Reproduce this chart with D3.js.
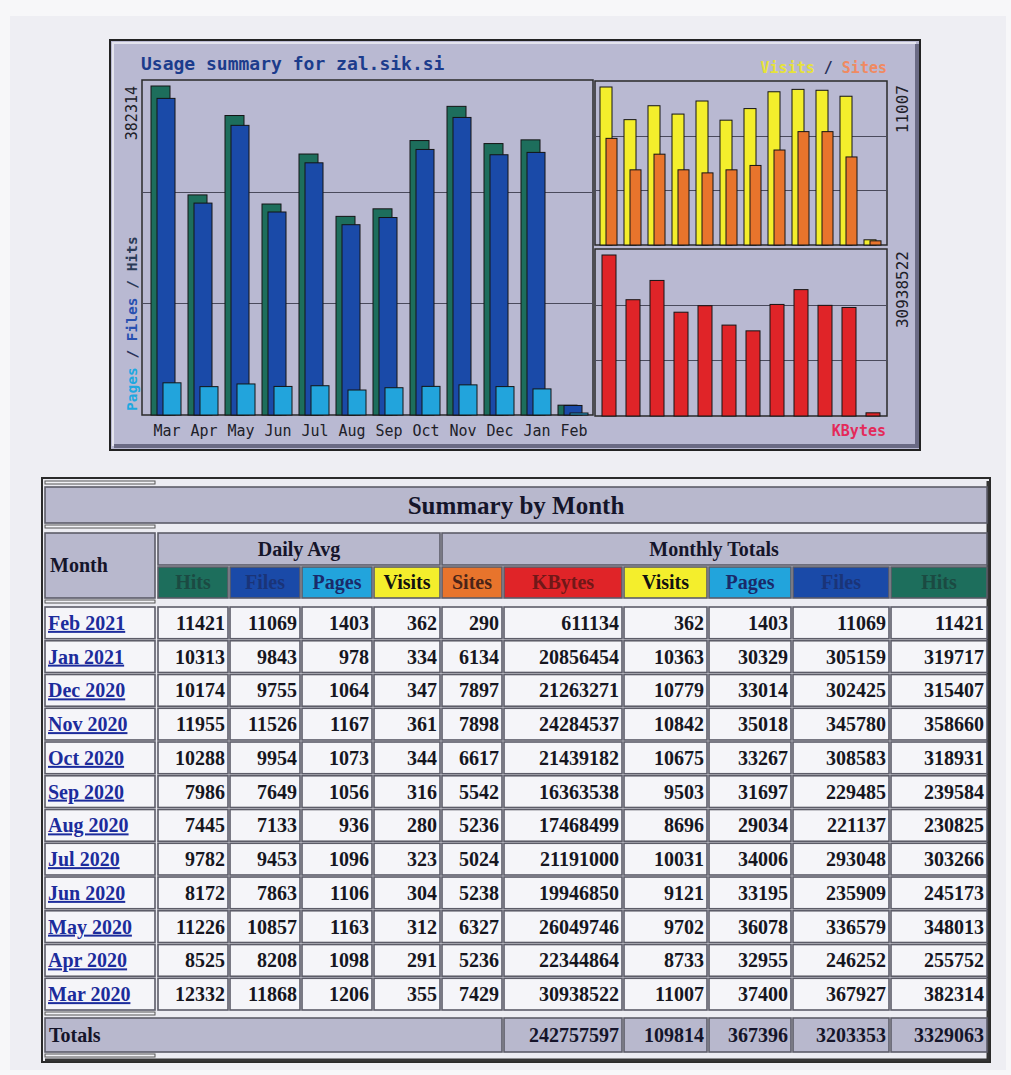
<!DOCTYPE html>
<html>
<head>
<meta charset="utf-8">
<script src="https://cdn.jsdelivr.net/npm/d3@7"></script>
<style>
body { margin: 0; background: #f4f4f7; }
</style>
</head>
<body>
<div id="page"></div>
<script>
// chart order: Mar 2020 .. Feb 2021
const months = ["Mar", "Apr", "May", "Jun", "Jul", "Aug", "Sep", "Oct", "Nov", "Dec", "Jan", "Feb"];
const years = ["2020", "2020", "2020", "2020", "2020", "2020", "2020", "2020", "2020", "2020", "2021", "2021"];

const avgHits = [12332, 8525, 11226, 8172, 9782, 7445, 7986, 10288, 11955, 10174, 10313, 11421];
const avgFiles = [11868, 8208, 10857, 7863, 9453, 7133, 7649, 9954, 11526, 9755, 9843, 11069];
const avgPages = [1206, 1098, 1163, 1106, 1096, 936, 1056, 1073, 1167, 1064, 978, 1403];
const avgVisits = [355, 291, 312, 304, 323, 280, 316, 344, 361, 347, 334, 362];

const sites = [7429, 5236, 6327, 5238, 5024, 5236, 5542, 6617, 7898, 7897, 6134, 290];
const kbytes = [30938522, 22344864, 26049746, 19946850, 21191000, 17468499, 16363538, 21439182, 24284537, 21263271, 20856454, 611134];
const visits = [11007, 8733, 9702, 9121, 10031, 8696, 9503, 10675, 10842, 10779, 10363, 362];
const pages = [37400, 32955, 36078, 33195, 34006, 29034, 31697, 33267, 35018, 33014, 30329, 1403];
const files = [367927, 246252, 336579, 235909, 293048, 221137, 229485, 308583, 345780, 302425, 305159, 11069];
const hits = [382314, 255752, 348013, 245173, 303266, 230825, 239584, 318931, 358660, 315407, 319717, 11421];

const totals = [242757597, 109814, 367396, 3203353, 3329063]; // KBytes, Visits, Pages, Files, Hits

const headLabels = ["Hits", "Files", "Pages", "Visits", "Sites", "KBytes", "Visits", "Pages", "Files", "Hits"];

const C = {
    hits: "#1d6e5c", files: "#1a4aa8", pages: "#22a4dc",
    visits: "#f4ee2c", sites: "#e8742c", kbytes: "#e02428"
};
const mono = "'DejaVu Sans Mono', monospace";
const serif = "'Liberation Serif', 'Times New Roman', serif";

const svg = d3.select("#page").append("svg")
    .attr("width", 1011)
    .attr("height", 1075);

svg.append("rect").attr("width", 1011).attr("height", 1075).attr("fill", "#f7f7f9");
svg.append("rect").attr("x", 10).attr("y", 16).attr("width", 996).attr("height", 1054).attr("fill", "#eeeef3");

// ---------- graph box ----------
svg.append("rect")
    .attr("x", 110).attr("y", 40).attr("width", 810).attr("height", 410)
    .attr("fill", "#b9b9d2").attr("stroke", "#222").attr("stroke-width", 2);
svg.append("path").attr("d", "M113,446 V43 H916")
    .attr("fill", "none").attr("stroke", "#e4e4ee").attr("stroke-width", 2);
svg.append("path").attr("d", "M114,446 H917 V44")
    .attr("fill", "none").attr("stroke", "#6a6a84").attr("stroke-width", 4);

svg.append("text")
    .attr("x", 141).attr("y", 70)
    .style("font-family", mono).style("font-size", "18px").style("font-weight", "bold")
    .attr("fill", "#1c3c8c")
    .text("Usage summary for zal.sik.si");

const drawPanel = function (x0, x1, y0, y1) {
    const g = svg.append("g");
    g.append("rect").attr("x", x0).attr("y", y0).attr("width", x1 - x0).attr("height", y1 - y0)
        .attr("fill", "none").attr("stroke", "#2a2a2a").attr("stroke-width", 1.5);
    [1, 2].forEach(function (k) {
        const y = Math.round(y0 + (y1 - y0) * k / 3) + 0.5;
        g.append("line").attr("x1", x0).attr("x2", x1).attr("y1", y).attr("y2", y)
            .attr("stroke", "#4a4a5c").attr("stroke-width", 1);
    });
};

const drawBars = function (xs, ys, vals, base, dx, w, color) {
    svg.append("g").selectAll("rect")
        .data(vals)
        .enter()
        .append("rect")
        .attr("x", (d, i) => xs(months[i]) + dx)
        .attr("y", d => Math.min(ys(d), base - 2))
        .attr("width", w)
        .attr("height", d => Math.max(base - ys(d), 2))
        .attr("fill", color)
        .attr("stroke", "#141414")
        .attr("stroke-width", 1);
};

// left panel: hits / files / pages
drawPanel(142, 593, 80, 415);
const xL = d3.scaleBand().domain(months).range([149, 593]);
const yL = d3.scaleLinear().domain([0, d3.max(hits)]).range([415, 86]);
drawBars(xL, yL, hits, 415, 2, 19, C.hits);
drawBars(xL, yL, files, 415, 8, 18, C.files);
drawBars(xL, yL, pages, 415, 14, 18, C.pages);

svg.append("g").selectAll("text")
    .data(months)
    .enter()
    .append("text")
    .attr("x", d => xL(d) + 18)
    .attr("y", 436)
    .attr("text-anchor", "middle")
    .style("font-family", mono).style("font-size", "15px")
    .attr("fill", "#202028")
    .text(d => d);

svg.append("text")
    .attr("transform", "translate(137,86) rotate(-90)")
    .attr("text-anchor", "end")
    .style("font-family", mono).style("font-size", "15px")
    .attr("fill", "#202028")
    .text(d3.max(hits));

const leftLab = svg.append("text")
    .attr("transform", "translate(137,411) rotate(-90)")
    .style("font-family", mono).style("font-size", "14.5px").style("font-weight", "bold");
leftLab.append("tspan").attr("fill", "#1ea8e0").text("Pages");
leftLab.append("tspan").attr("fill", "#28305a").text(" / ");
leftLab.append("tspan").attr("fill", "#2850b0").text("Files");
leftLab.append("tspan").attr("fill", "#2a3a56").text(" / Hits");

// right top panel: visits / sites
drawPanel(595, 887, 81, 245);
const xR = d3.scaleBand().domain(months).range([598, 886]);
const yV = d3.scaleLinear().domain([0, d3.max(visits)]).range([245, 87]);
drawBars(xR, yV, visits, 245, 2, 12, C.visits);
drawBars(xR, yV, sites, 245, 8, 11, C.sites);

// right bottom panel: kbytes
drawPanel(595, 887, 249, 416);
const yK = d3.scaleLinear().domain([0, d3.max(kbytes)]).range([416, 255]);
drawBars(xR, yK, kbytes, 416, 4, 14, C.kbytes);

svg.append("text")
    .attr("transform", "translate(908,85) rotate(-90)")
    .attr("text-anchor", "end")
    .style("font-family", mono).style("font-size", "16px")
    .attr("fill", "#202028")
    .text(d3.max(visits));
svg.append("text")
    .attr("transform", "translate(908,251) rotate(-90)")
    .attr("text-anchor", "end")
    .style("font-family", mono).style("font-size", "16px")
    .attr("fill", "#202028")
    .text(d3.max(kbytes));

const vsLab = svg.append("text")
    .attr("x", 887).attr("y", 73)
    .attr("text-anchor", "end")
    .style("font-family", mono).style("font-size", "15px").style("font-weight", "bold");
vsLab.append("tspan").attr("fill", "#e6e23a").text("Visits");
vsLab.append("tspan").attr("fill", "#28305a").text(" / ");
vsLab.append("tspan").attr("fill", "#f08a62").text("Sites");

svg.append("text")
    .attr("x", 886).attr("y", 436)
    .attr("text-anchor", "end")
    .style("font-family", mono).style("font-size", "15px").style("font-weight", "bold")
    .attr("fill", "#e42a5a")
    .text("KBytes");

// ---------- summary table ----------
const colX = [[158, 228], [230, 300], [302, 372], [374, 440], [442, 502],
              [504, 622], [624, 707], [709, 791], [793, 889], [891, 987]];
const headFill = [C.hits, C.files, C.pages, C.visits, C.sites, C.kbytes, C.visits, C.pages, C.files, C.hits];
const headInk = ["#1b4a42", "#1a3478", "#1a2a6a", "#111", "#4a2418", "#701818", "#111", "#1a2a6a", "#1a3478", "#1b4a42"];
const lav = "#b8b8cd";

const tg = svg.append("g");
tg.append("rect").attr("x", 42).attr("y", 478).attr("width", 948).attr("height", 584)
    .attr("fill", "#ececf2").attr("stroke", "#2a2a2a").attr("stroke-width", 2);
tg.append("path").attr("d", "M45,1060 H988 V481")
    .attr("fill", "none").attr("stroke", "#333").attr("stroke-width", 3);

const cell = function (x0, x1, y0, y1, fill) {
    tg.append("rect").attr("x", x0).attr("y", y0).attr("width", x1 - x0).attr("height", y1 - y0)
        .attr("fill", fill).attr("stroke", "#5c5c68").attr("stroke-width", 1.6);
};
const label = function (x, y, txt, anchor, size, color) {
    return tg.append("text").attr("x", x).attr("y", y)
        .attr("text-anchor", anchor)
        .style("font-family", serif).style("font-size", size + "px").style("font-weight", "bold")
        .attr("fill", color)
        .text(txt);
};

// spacer rows
[481, 525, 600, 1012, 1054].forEach(function (y) {
    tg.append("rect").attr("x", 45).attr("y", y).attr("width", 110).attr("height", 3)
        .attr("fill", "#f2f2f6").attr("stroke", "#555").attr("stroke-width", 1);
});

cell(45, 987, 487, 523, lav);
label(516, 514, "Summary by Month", "middle", 25, "#15152a");

cell(45, 155, 533, 598, lav);
label(50, 572, "Month", "start", 20, "#15152a");
cell(158, 440, 533, 565, lav);
label(299, 556, "Daily Avg", "middle", 20, "#15152a");
cell(442, 987, 533, 565, lav);
label(714, 556, "Monthly Totals", "middle", 20, "#15152a");

headLabels.forEach(function (h, j) {
    cell(colX[j][0], colX[j][1], 567, 598, headFill[j]);
    label((colX[j][0] + colX[j][1]) / 2, 589, h, "middle", 20, headInk[j]);
});

// table rows run newest first
const order = d3.range(months.length).reverse();
const rowY = d3.scaleBand().domain(order).range([607, 1010]).paddingInner(0.06);
order.forEach(function (i) {
    const y0 = rowY(i), y1 = y0 + rowY.bandwidth();
    const base = y0 + rowY.bandwidth() / 2 + 7;
    cell(45, 155, y0, y1, "#f5f5f9");
    label(48, base, months[i] + " " + years[i], "start", 20, "#1c2c9c")
        .attr("text-decoration", "underline");
    const vals = [avgHits[i], avgFiles[i], avgPages[i], avgVisits[i], sites[i],
                  kbytes[i], visits[i], pages[i], files[i], hits[i]];
    vals.forEach(function (v, j) {
        cell(colX[j][0], colX[j][1], y0, y1, "#f5f5f9");
        label(colX[j][1] - 3, base, v, "end", 20, "#16161f");
    });
});

cell(45, 502, 1018, 1052, lav);
label(49, 1042, "Totals", "start", 20, "#15152a");
totals.forEach(function (v, k) {
    const j = k + 5;
    cell(colX[j][0], colX[j][1], 1018, 1052, lav);
    label(colX[j][1] - 3, 1042, v, "end", 20, "#15152a");
});
</script>
</body>
</html>
